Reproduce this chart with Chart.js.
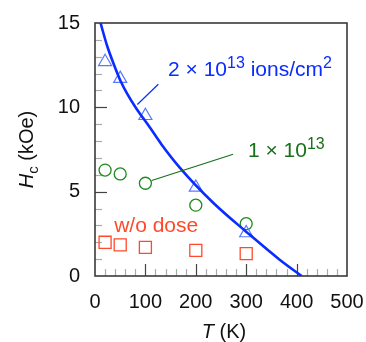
<!DOCTYPE html>
<html>
<head>
<meta charset="utf-8">
<script src="https://cdn.jsdelivr.net/npm/chart.js@4"></script>
<style>
  html, body { margin: 0; padding: 0; background: #fff; }
  #wrap { width: 366px; height: 342px; }
</style>
</head>
<body>
<div id="wrap"><canvas id="hc" width="366" height="342"></canvas></div>
<script>
// measured points (T in K, Hc in kOe)
var temps = [20, 50, 100, 200, 300];
var hcDose2 = [12.7, 11.7, 9.5, 5.25, 2.55];
var hcDose1 = [6.28, 6.05, 5.5, 4.2, 3.1];
var hcNoDose = [2.0, 1.85, 1.7, 1.52, 1.33];

// fitted curve for 2e13
var fitT = [11, 24, 38, 51, 64, 81, 109, 132, 169, 235, 301, 367, 410];
var fitHc = [15, 13.65, 12.5, 11.55, 10.8, 9.98, 8.8, 7.8, 6.4, 4.33, 2.6, 0.95, 0];

var xTicks = [0, 100, 200, 300, 400, 500];
var yTicks = [0, 5, 10, 15];

var FONT = '"Liberation Sans", Arial, Helvetica, sans-serif';
var BLUE = "#0a2cff";
var TRI = "#5a78ff";
var GREEN = "#1f8a1f";
var GREEN_TXT = "#17701a";
var RED = "#ff4a2a";

function pts(xs, ys) {
    return xs.map(function (x, i) { return { x: x, y: ys[i] }; });
}

// draws text pieces one after another: sup / sub / italic
function richText(ctx, x, y, parts, size) {
    size = size || 20;
    parts.forEach(function (p) {
        var s = (p.sup || p.sub) ? Math.round(size * 0.76) : size;
        var dy = p.sup ? -Math.round(size * 0.4) : (p.sub ? 5 : 0);
        ctx.font = (p.italic ? "italic " : "") + s + "px " + FONT;
        ctx.fillText(p.t, x, y + dy);
        x += ctx.measureText(p.t).width;
    });
}

var decorPlugin = {
    id: "decor",
    beforeDatasetsDraw: function (chart) {
        var ctx = chart.ctx, a = chart.chartArea;
        var xs = chart.scales.x, ys = chart.scales.y;
        ctx.save();
        ctx.lineWidth = 1.2;
        var v;
        for (v = 20; v < 500; v += 20) {
            var major = v % 100 === 0;
            var px = Math.round(xs.getPixelForValue(v)) + 0.5;
            ctx.strokeStyle = major ? "#444" : "#aaa";
            ctx.beginPath();
            ctx.moveTo(px, a.bottom);
            ctx.lineTo(px, a.bottom - (major ? 12 : 7));
            ctx.stroke();
        }
        for (v = 1; v < 15; v += 1) {
            var maj = v % 5 === 0;
            var py = Math.round(ys.getPixelForValue(v)) + 0.5;
            ctx.strokeStyle = maj ? "#444" : "#aaa";
            ctx.beginPath();
            ctx.moveTo(a.left, py);
            ctx.lineTo(a.left + (maj ? 12 : 7), py);
            ctx.stroke();
        }
        ctx.strokeStyle = "#3a3a3a";
        ctx.lineWidth = 1.6;
        ctx.strokeRect(a.left, a.top, a.right - a.left, a.bottom - a.top);
        ctx.restore();
    },
    afterDatasetsDraw: function (chart) {
        var ctx = chart.ctx, a = chart.chartArea;
        var xs = chart.scales.x, ys = chart.scales.y;
        function X(v) { return xs.getPixelForValue(v); }
        function Y(v) { return ys.getPixelForValue(v); }
        ctx.save();
        ctx.textBaseline = "alphabetic";
        ctx.textAlign = "left";

        // leader lines
        ctx.lineWidth = 1.2;
        ctx.strokeStyle = BLUE;
        ctx.beginPath();
        ctx.moveTo(X(84), Y(10.17));
        ctx.lineTo(X(125.6), Y(11.37));
        ctx.stroke();
        ctx.strokeStyle = GREEN_TXT;
        ctx.beginPath();
        ctx.moveTo(X(112.5), Y(5.66));
        ctx.lineTo(X(274), Y(7.22));
        ctx.stroke();

        ctx.fillStyle = BLUE;
        richText(ctx, X(145), Y(11.84), [
            { t: "2 \u00d7 10" }, { t: "13", sup: true }, { t: " ions/cm" }, { t: "2", sup: true }
        ], 21);
        ctx.fillStyle = GREEN_TXT;
        richText(ctx, X(303.5), Y(7.06), [{ t: "1 \u00d7 10" }, { t: "13", sup: true }], 21);
        ctx.fillStyle = RED;
        richText(ctx, X(38), Y(2.6), [{ t: "w/o dose" }], 21);

        // axis titles
        ctx.fillStyle = "#111";
        var xt = [{ t: "T", italic: true }, { t: " (K)" }];
        ctx.font = "italic 20px " + FONT;
        var w = ctx.measureText("T").width;
        ctx.font = "20px " + FONT;
        w += ctx.measureText(" (K)").width;
        richText(ctx, (a.left + a.right) / 2 + 3 - w / 2, 338, xt);

        ctx.translate(33, (a.top + a.bottom) / 2);
        ctx.rotate(-Math.PI / 2);
        var yt = [{ t: "H", italic: true }, { t: "c", sub: true }, { t: " (kOe)" }];
        ctx.font = "italic 20px " + FONT;
        var wy = ctx.measureText("H").width;
        ctx.font = "15px " + FONT;
        wy += ctx.measureText("c").width;
        ctx.font = "20px " + FONT;
        wy += ctx.measureText(" (kOe)").width;
        richText(ctx, -wy / 2, 0, yt);
        ctx.restore();
    }
};

new Chart(document.getElementById("hc").getContext("2d"), {
    type: "scatter",
    data: {
        datasets: [
            {
                label: "fit",
                data: pts(fitT, fitHc),
                showLine: true,
                borderColor: BLUE,
                borderWidth: 2.6,
                pointRadius: 0,
                cubicInterpolationMode: "monotone",
                order: 0
            },
            {
                label: "2e13",
                data: pts(temps, hcDose2),
                pointStyle: "triangle",
                pointRadius: 7.5,
                borderColor: TRI,
                borderWidth: 1.2,
                backgroundColor: "rgba(0,0,0,0)"
            },
            {
                label: "1e13",
                data: pts(temps, hcDose1),
                pointStyle: "circle",
                pointRadius: 6,
                borderColor: GREEN,
                borderWidth: 1.3,
                backgroundColor: "rgba(0,0,0,0)"
            },
            {
                label: "no dose",
                data: pts(temps, hcNoDose),
                pointStyle: "rect",
                pointRadius: 8.5,
                borderColor: RED,
                borderWidth: 1.3,
                backgroundColor: "rgba(0,0,0,0)"
            }
        ]
    },
    options: {
        responsive: false,
        animation: false,
        events: [],
        layout: { padding: { left: 0, top: 23, right: 19, bottom: 0 } },
        plugins: {
            legend: { display: false },
            tooltip: { enabled: false }
        },
        scales: {
            x: {
                type: "linear",
                min: 0,
                max: 500,
                grid: { display: false, drawTicks: false },
                border: { display: false },
                afterBuildTicks: function (s) {
                    s.ticks = xTicks.map(function (v) { return { value: v }; });
                },
                afterFit: function (s) {
                    s.height = 66;
                    s.paddingLeft = 0;
                    s.paddingRight = 0;
                },
                ticks: {
                    padding: 14,
                    color: "#111",
                    font: { family: FONT, size: 20 }
                }
            },
            y: {
                type: "linear",
                min: 0,
                max: 15,
                grid: { display: false, drawTicks: false },
                border: { display: false },
                afterBuildTicks: function (s) {
                    s.ticks = yTicks.map(function (v) { return { value: v }; });
                },
                afterFit: function (s) {
                    s.width = 95;
                    s.paddingTop = 0;
                    s.paddingBottom = 0;
                },
                ticks: {
                    padding: 15,
                    color: "#111",
                    font: { family: FONT, size: 20 }
                }
            }
        }
    },
    plugins: [decorPlugin]
});
</script>
</body>
</html>
